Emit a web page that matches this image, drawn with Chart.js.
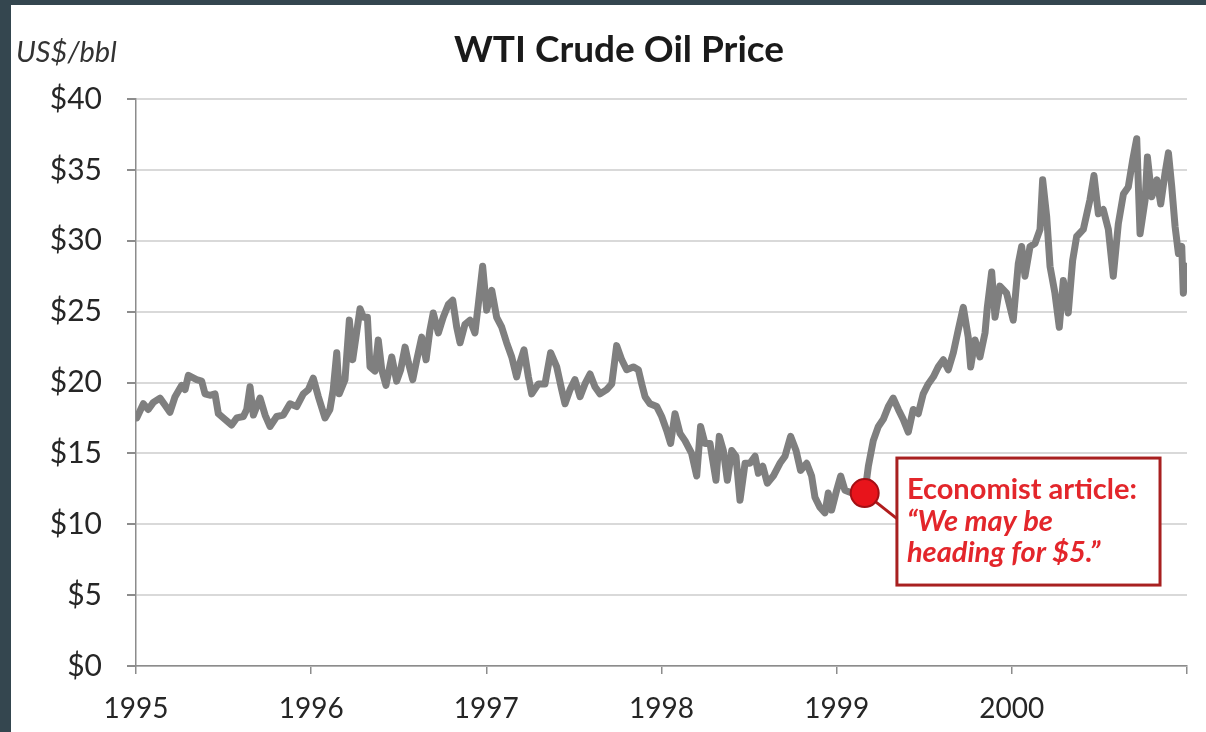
<!DOCTYPE html>
<html>
<head>
<meta charset="utf-8">
<script src="https://cdn.jsdelivr.net/npm/chart.js@4.4.1/dist/chart.umd.min.js"></script>
<style>
  html, body { margin: 0; padding: 0; }
  body { width: 1206px; height: 732px; background: #34464f; position: relative; overflow: hidden; }
  #wrap { position: absolute; left: 11px; top: 5px; width: 1195px; height: 727px; background: #fff; }
</style>
</head>
<body>
<div id="wrap"><canvas id="oil-chart"></canvas></div>
<script>
// WTI readings (decimal year, US$/bbl)
const years = [
  1995.004, 1995.042, 1995.070, 1995.099, 1995.137, 1995.166, 1995.194, 1995.223, 1995.261, 1995.280,
  1995.299, 1995.346, 1995.375, 1995.394, 1995.422, 1995.451, 1995.470, 1995.508, 1995.546, 1995.575,
  1995.613, 1995.632, 1995.651, 1995.670, 1995.708, 1995.737, 1995.765, 1995.803, 1995.841, 1995.879,
  1995.917, 1995.955, 1995.984,
  1996.012, 1996.041, 1996.079, 1996.107, 1996.126, 1996.146, 1996.160, 1996.193, 1996.218, 1996.237,
  1996.279, 1996.298, 1996.321, 1996.336, 1996.364, 1996.383, 1996.403, 1996.427, 1996.460, 1996.488,
  1996.511, 1996.536, 1996.555, 1996.580, 1996.603, 1996.631, 1996.656, 1996.678, 1996.697, 1996.726,
  1996.754, 1996.783, 1996.808, 1996.831, 1996.850, 1996.878, 1996.907, 1996.935, 1996.954, 1996.979,
  1997.002, 1997.031, 1997.059, 1997.088, 1997.116, 1997.145, 1997.173, 1997.192, 1997.215, 1997.240,
  1997.259, 1997.297, 1997.335, 1997.367, 1997.402, 1997.430, 1997.449, 1997.478, 1997.506, 1997.535,
  1997.563, 1997.592, 1997.620, 1997.649, 1997.687, 1997.716, 1997.744, 1997.773, 1997.801, 1997.839,
  1997.868, 1997.887, 1997.906, 1997.934, 1997.973,
  1998.001, 1998.030, 1998.052, 1998.077, 1998.106, 1998.134, 1998.172, 1998.201, 1998.223, 1998.248,
  1998.277, 1998.311, 1998.330, 1998.353, 1998.376, 1998.401, 1998.425, 1998.448, 1998.477, 1998.505,
  1998.534, 1998.553, 1998.578, 1998.604, 1998.638, 1998.676, 1998.705, 1998.737, 1998.768, 1998.794,
  1998.829, 1998.857, 1998.876, 1998.904, 1998.933, 1998.952, 1998.971,
  1999.000, 1999.023, 1999.047, 1999.087, 1999.161, 1999.181, 1999.209, 1999.238, 1999.266, 1999.295,
  1999.323, 1999.352, 1999.380, 1999.409, 1999.437, 1999.466, 1999.494, 1999.523, 1999.552, 1999.580,
  1999.609, 1999.637, 1999.666, 1999.694, 1999.723, 1999.751, 1999.765, 1999.790, 1999.818, 1999.847,
  1999.860, 1999.885, 1999.904, 1999.932, 1999.970,
  2000.008, 2000.037, 2000.056, 2000.075, 2000.104, 2000.132, 2000.161, 2000.176, 2000.199, 2000.218,
  2000.246, 2000.271, 2000.294, 2000.322, 2000.347, 2000.370, 2000.408, 2000.446, 2000.469, 2000.494,
  2000.522, 2000.551, 2000.579, 2000.608, 2000.637, 2000.665, 2000.690, 2000.713, 2000.732, 2000.761,
  2000.774, 2000.799, 2000.828, 2000.850, 2000.875, 2000.894, 2000.913, 2000.932, 2000.951, 2000.970,
  2000.979, 2000.997
];
const prices = [
  17.5, 18.5, 18.1, 18.6, 18.9, 18.4, 17.9, 19.0, 19.8, 19.5,
  20.5, 20.2, 20.1, 19.2, 19.1, 19.2, 17.8, 17.4, 17.0, 17.5,
  17.6, 18.1, 19.7, 17.7, 18.9, 17.7, 16.9, 17.6, 17.7, 18.5,
  18.3, 19.2, 19.5,
  20.3, 19.0, 17.5, 18.1, 19.5, 22.1, 19.2, 20.2, 24.4, 21.6,
  25.2, 24.6, 24.6, 21.1, 20.8, 23.0, 20.9, 19.8, 21.8, 20.1,
  20.9, 22.5, 21.4, 20.2, 21.6, 23.2, 21.6, 23.7, 24.9, 23.5,
  24.6, 25.5, 25.8, 23.9, 22.8, 24.1, 24.4, 23.5, 25.5, 28.2,
  25.1, 26.5, 24.6, 23.9, 22.8, 21.8, 20.4, 21.4, 22.3, 20.4,
  19.2, 19.9, 19.9, 22.1, 21.1, 19.5, 18.5, 19.5, 20.2, 19.0,
  19.9, 20.6, 19.7, 19.2, 19.5, 19.9, 22.6, 21.6, 20.9, 21.1,
  20.9, 19.9, 19.0, 18.5, 18.3,
  17.6, 16.6, 15.7, 17.8, 16.4, 15.9, 15.0, 13.4, 16.9, 15.7,
  15.7, 13.1, 16.2, 15.2, 13.1, 15.2, 14.8, 11.7, 14.3, 14.3,
  14.8, 13.6, 14.1, 12.9, 13.4, 14.3, 14.8, 16.2, 15.2, 13.8,
  14.3, 13.4, 11.9, 11.2, 10.8, 12.2, 11.0,
  12.4, 13.4, 12.4, 12.2, 12.2, 14.1, 15.9, 16.9, 17.4, 18.3,
  18.9, 18.1, 17.4, 16.5, 18.1, 17.8, 19.2, 19.9, 20.4, 21.1,
  21.6, 20.9, 22.1, 23.7, 25.3, 23.2, 21.1, 23.0, 21.8, 23.5,
  25.3, 27.8, 24.6, 26.8, 26.3,
  24.4, 28.4, 29.6, 27.5, 29.6, 29.8, 30.8, 34.3, 31.7, 28.2,
  26.3, 23.9, 27.2, 24.9, 28.6, 30.3, 30.8, 32.9, 34.6, 31.9,
  32.2, 30.8, 27.5, 31.2, 33.3, 33.8, 35.7, 37.2, 30.5, 32.9,
  35.9, 33.1, 34.3, 32.6, 34.8, 36.2, 33.8, 31.0, 29.1, 29.6,
  26.3, 28.2
];
const yearTicks = [1995, 1996, 1997, 1998, 1999, 2000, 2001];
const yearLabels = ['1995', '1996', '1997', '1998', '1999', '2000', ''];
const priceTicks = [0, 5, 10, 15, 20, 25, 30, 35, 40];

// the Economist call, early 1999
const articleDate = [1999.16];
const articlePrice = [12.2];
const articleLines = ['Economist article:', '\u201CWe may be', 'heading for $5.\u201D'];

// callout box corners in data units
const callout = { x0: 1999.344, x1: 2000.846, y0: 14.67, y1: 5.71 };

const FONT = 'Lato, "Open Sans", sans-serif';

const extras = {
    id: 'extras',
    beforeDatasetsDraw(chart) {
        const { ctx, scales: { x, y } } = chart;
        ctx.save();
        ctx.strokeStyle = '#b01c1c';
        ctx.lineWidth = 3;
        ctx.beginPath();
        ctx.moveTo(x.getPixelForValue(articleDate[0]), y.getPixelForValue(articlePrice[0]));
        ctx.lineTo(x.getPixelForValue(callout.x0), y.getPixelForValue(10.4));
        ctx.stroke();
        ctx.restore();
    },
    afterDatasetsDraw(chart) {
        const { ctx, scales: { x, y } } = chart;
        const bx = x.getPixelForValue(callout.x0);
        const by = y.getPixelForValue(callout.y0);
        const bw = x.getPixelForValue(callout.x1) - bx;
        const bh = y.getPixelForValue(callout.y1) - by;
        ctx.save();
        ctx.fillStyle = '#fff';
        ctx.fillRect(bx, by, bw, bh);
        ctx.strokeStyle = '#a82020';
        ctx.lineWidth = 3;
        ctx.strokeRect(bx, by, bw, bh);

        ctx.fillStyle = '#e3262b';
        ctx.textBaseline = 'middle';
        ctx.textAlign = 'left';
        articleLines.forEach((t, i) => {
            ctx.font = (i === 0 ? '' : 'italic ') + 'bold 29px ' + FONT;
            ctx.fillText(t, bx + 10, by + 32 + i * 31.5);
        });
        ctx.restore();
    },
    afterDraw(chart) {
        const { ctx } = chart;
        ctx.save();
        ctx.fillStyle = '#1a1a1a';
        ctx.font = 'bold 37px ' + FONT;
        ctx.textAlign = 'center';
        ctx.textBaseline = 'middle';
        ctx.fillText('WTI Crude Oil Price', 608, 45);

        ctx.fillStyle = '#333';
        ctx.font = 'italic 29px ' + FONT;
        ctx.textAlign = 'left';
        ctx.fillText('US$/bbl', 5, 48);
        ctx.restore();
    }
};

const ctx = document.getElementById('oil-chart').getContext('2d');

new Chart(ctx, {
    type: 'line',
    data: {
        datasets: [
            {
                data: articleDate.map((d, i) => ({ x: d, y: articlePrice[i] })),
                showLine: false,
                pointRadius: 14,
                pointBackgroundColor: '#e8141b',
                pointBorderColor: '#a30f14',
                pointBorderWidth: 2,
                order: 0
            },
            {
                data: years.map((d, i) => ({ x: d, y: prices[i] })),
                borderColor: '#7f7f7f',
                borderWidth: 7,
                borderJoinStyle: 'round',
                borderCapStyle: 'round',
                pointRadius: 0,
                tension: 0,
                order: 1
            }
        ]
    },
    options: {
        responsive: true,
        maintainAspectRatio: false,
        animation: false,
        layout: { padding: { top: 94, right: 19, left: 0, bottom: 0 } },
        plugins: { legend: { display: false }, tooltip: { enabled: false } },
        scales: {
            x: {
                type: 'linear',
                min: 1995,
                max: 2001,
                afterBuildTicks: (s) => { s.ticks = yearTicks.map(v => ({ value: v })); },
                afterFit: (s) => { s.height = 66; },
                ticks: {
                    callback: (v) => yearLabels[yearTicks.indexOf(v)],
                    color: '#262626',
                    font: { family: FONT, size: 28 },
                    padding: 18,
                    maxRotation: 0
                },
                grid: { drawOnChartArea: false, tickLength: 8, tickColor: '#8c8c8c', lineWidth: 1.5 },
                border: { color: '#8c8c8c', width: 1.5 }
            },
            y: {
                min: 0,
                max: 40,
                afterBuildTicks: (s) => { s.ticks = priceTicks.map(v => ({ value: v })); },
                afterFit: (s) => { s.width = 125; },
                ticks: {
                    callback: (v) => '$' + v,
                    color: '#262626',
                    font: { family: FONT, size: 30 },
                    padding: 25
                },
                grid: { color: '#d9d9d9', lineWidth: 2, tickLength: 9, tickColor: '#8c8c8c' },
                border: { color: '#8c8c8c', width: 1.5 }
            }
        }
    },
    plugins: [extras]
});
</script>
</body>
</html>
